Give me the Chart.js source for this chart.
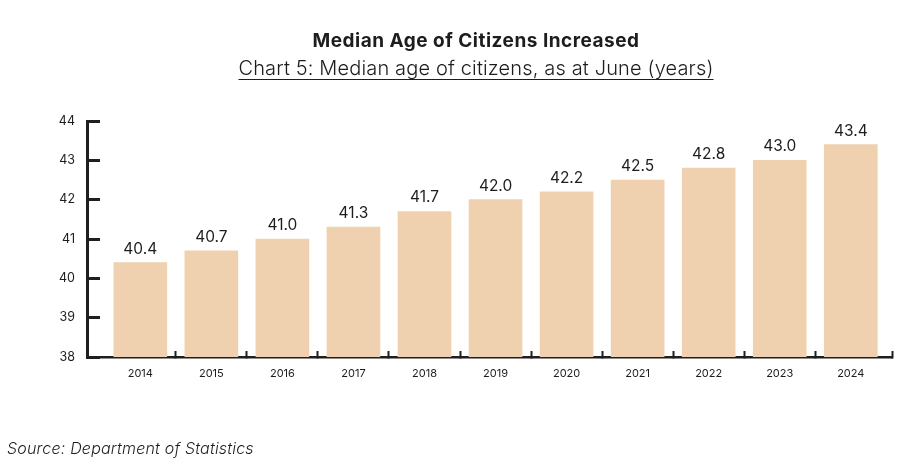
<!DOCTYPE html>
<html>
<head>
<meta charset="utf-8">
<script src="https://cdn.jsdelivr.net/npm/chart.js@4/dist/chart.umd.min.js"></script>
<style>
  body { margin: 0; background: #fff; font-family: Inter, "Open Sans", sans-serif; color: #1d1d1d; }
  #wrap { position: relative; width: 899px; height: 466px; overflow: hidden; }
  #chart-box { position: absolute; left: 0; top: 0; width: 899px; height: 466px; }
  .title { position: absolute; left: 476px; transform: translateX(-50%); white-space: nowrap; }
  #t1 { top: 29px; font-size: 19px; font-weight: 700; letter-spacing: 0.5px; }
  #t2 { top: 56px; font-size: 20px; font-weight: 300; letter-spacing: 0.15px; text-decoration: underline; text-underline-offset: 4px; text-decoration-thickness: 1px; }
  #source { position: absolute; left: 7px; top: 438px; font-size: 16px; font-style: italic; font-weight: 300; letter-spacing: 0.2px; }
</style>
</head>
<body>
<div id="wrap">
  <div id="chart-box"><canvas id="bar-chart"></canvas></div>
  <div class="title" id="t1">Median Age of Citizens Increased</div>
  <div class="title" id="t2">Chart 5: Median age of citizens, as at June (years)</div>
  <div id="source">Source: Department of Statistics</div>
</div>
<script>
  var years = [2014, 2015, 2016, 2017, 2018, 2019, 2020, 2021, 2022, 2023, 2024];
  var medianAge = [40.4, 40.7, 41.0, 41.3, 41.7, 42.0, 42.2, 42.5, 42.8, 43.0, 43.4];
  var yTicks = [38, 39, 40, 41, 42, 43, 44];

  var barColor = '#EFD1B0';
  var axisColor = '#1f1f1f';
  var xMin = 2013.25;
  var xMax = 2024.58;

  // value labels above each bar
  var valueLabels = {
    id: 'valueLabels',
    afterDatasetsDraw: function(chart) {
      var ctx = chart.ctx;
      var meta = chart.getDatasetMeta(0);
      ctx.save();
      ctx.font = '400 15.5px Inter, "Open Sans", sans-serif';
      ctx.fillStyle = '#1d1d1d';
      ctx.textAlign = 'center';
      ctx.textBaseline = 'alphabetic';
      meta.data.forEach(function(bar, i) {
        ctx.fillText(medianAge[i].toFixed(1), bar.x, bar.y - 9);
      });
      ctx.restore();
    }
  };

  new Chart(document.getElementById('bar-chart'), {
    type: 'bar',
    data: {
      datasets: [{
        label: 'Median age',
        data: years.map(function(y, i) { return { x: y, y: medianAge[i] }; }),
        backgroundColor: barColor,
        borderWidth: 0,
        barThickness: 53
      }]
    },
    options: {
      responsive: true,
      maintainAspectRatio: false,
      animation: false,
      layout: { padding: { top: 121, right: 7, left: 0, bottom: 0 } },
      plugins: {
        legend: { display: false },
        tooltip: { enabled: false }
      },
      scales: {
        x: {
          type: 'linear',
          min: xMin,
          max: xMax,
          offset: false,
          afterBuildTicks: function(scale) {
            var t = [];
            years.forEach(function(y) {
              t.push({ value: y });
              if (y < years[years.length - 1]) t.push({ value: y + 0.5 });
            });
            t.push({ value: xMax });
            scale.ticks = t;
          },
          afterFit: function(scale) {
            scale.height = 109;
            scale.paddingLeft = 0;
            scale.paddingRight = 0;
          },
          border: { display: true, color: axisColor, width: 2.5 },
          grid: {
            offset: false,
            drawOnChartArea: false,
            tickLength: -6,
            tickWidth: 2,
            tickColor: function(c) {
              return c.tick && Number.isInteger(c.tick.value) ? 'rgba(0,0,0,0)' : axisColor;
            }
          },
          ticks: {
            autoSkip: false,
            maxRotation: 0,
            padding: 16,
            color: '#1d1d1d',
            font: { family: 'Inter, "Open Sans", sans-serif', size: 11 },
            callback: function(v) { return Number.isInteger(v) ? String(v) : ''; }
          }
        },
        y: {
          min: 38,
          max: 44,
          afterBuildTicks: function(scale) {
            scale.ticks = yTicks.map(function(v) { return { value: v }; });
          },
          afterFit: function(scale) { scale.width = 87; },
          border: { display: true, color: axisColor, width: 3 },
          grid: {
            drawOnChartArea: false,
            tickLength: -13,
            tickWidth: 3,
            tickColor: axisColor
          },
          ticks: {
            padding: 25,
            color: '#1d1d1d',
            font: { family: 'Inter, "Open Sans", sans-serif', size: 12.5 }
          }
        }
      }
    },
    plugins: [valueLabels]
  });
</script>
</body>
</html>
